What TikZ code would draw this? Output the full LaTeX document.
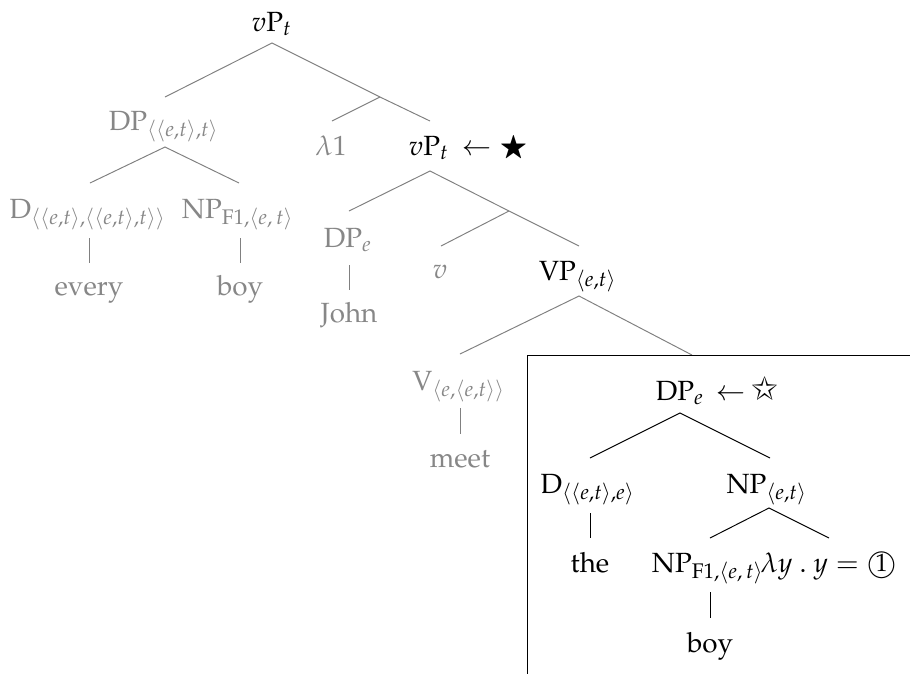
\documentclass[tikz,border=0pt]{standalone}
\usepackage[T1]{fontenc}
\usepackage{mathpazo}
\usepackage{amssymb}
\usepackage{pifont}
\newcommand{\circone}{\mbox{\ooalign{$\bigcirc$\cr\hidewidth\raisebox{0.05ex}{\small 1}\hidewidth\cr}}}
\begin{document}
\begin{tikzpicture}[x=0.36pt,y=-0.36pt,
  lbl/.style={anchor=base,inner sep=0pt,text=black},
  dim/.style={anchor=base,inner sep=0pt,text=black!47},
  gline/.style={draw=black!50,line width=0.35pt},
  bline/.style={draw=black,line width=0.35pt}]
\useasboundingbox (0,0) rectangle (910,673);
% ---- upper tree ----
\node[lbl] (root) at (272,31) {$v\mathrm{P}_t$};
\coordinate (rootB) at (272,43);
\node[dim] (dp1) at (164,130) {DP$_{\langle\langle e,t\rangle,t\rangle}$};
\coordinate (dp1T) at (165,97);
\coordinate (dp1B) at (165,147);
\coordinate (bar1) at (380,97);
\node[dim] (lam1) at (331,155) {$\lambda1$};
\coordinate (lam1T) at (332,121);
\node[lbl] (vp2) at (429,155) {$v\mathrm{P}_t$};
\node[anchor=base west,inner sep=0pt] (star1) at (462,155) {$\leftarrow\bigstar$};
\coordinate (vp2T) at (430,121);
\coordinate (vp2B) at (430,171);
\node[dim] (d1) at (88,218) {D$_{\langle\langle e,t\rangle,\langle\langle e,t\rangle,t\rangle\rangle}$};
\coordinate (d1T) at (90,183);
\coordinate (d1B) at (89,238);
\node[dim] (np1) at (238,218) {NP$_{\mathrm{F1},\langle e,\,t\rangle}$};
\coordinate (np1T) at (239,183);
\coordinate (np1B) at (240,238);
\node[dim] (every) at (89,295) {every};
\coordinate (everyT) at (89,263);
\node[dim] (boy1) at (240,295) {boy};
\coordinate (boy1T) at (240,263);
\node[dim] (dpe1) at (348,247) {DP$_e$};
\coordinate (dpe1T) at (349,211);
\coordinate (dpe1B) at (349,265);
\node[dim] (john) at (349,322) {John};
\coordinate (johnT) at (349,290);
\coordinate (bar2) at (509,211);
\node[dim] (vv) at (440,278) {$v$};
\coordinate (vvT) at (441,246);
\node[lbl] (vp) at (578,280) {VP$_{\langle e,t\rangle}$};
\coordinate (vpT) at (579,246);
\coordinate (vpB) at (579,296);
\node[dim] (vnode) at (459,390) {V$_{\langle e,\langle e,t\rangle\rangle}$};
\coordinate (vnodeT) at (460,354);
\coordinate (vnodeB) at (460,408);
\node[dim] (meet) at (460,467) {meet};
\coordinate (meetT) at (460,434);
\coordinate (boxT) at (692,355);
% ---- connectors upper ----
\draw[gline] (dp1T) -- (rootB) -- (bar1) -- (vp2T);
\draw[gline] (lam1T) -- (bar1);
\draw[gline] (d1T) -- (dp1B) -- (np1T);
\draw[gline] (d1B) -- (everyT);
\draw[gline] (np1B) -- (boy1T);
\draw[gline] (dpe1T) -- (vp2B) -- (bar2) -- (vpT);
\draw[gline] (vvT) -- (bar2);
\draw[gline] (dpe1B) -- (johnT);
\draw[gline] (vnodeT) -- (vpB) -- (boxT);
\draw[gline] (vnodeB) -- (meetT);
% ---- box ----
\coordinate (boxTL) at (527,355);
\coordinate (boxTR) at (912,355);
\coordinate (boxBL) at (527,675);
\draw[bline] (boxTR) -- (boxTL) -- (boxBL);
% ---- lower tree ----
\node[lbl] (dpe2) at (680,400) {DP$_e$};
\node[anchor=base west,inner sep=0pt] (star2) at (716,400) {$\leftarrow$\,{\large\ding{73}}};
\coordinate (dpe2B) at (680,413);
\node[lbl] (d2) at (588,493) {D$_{\langle\langle e,t\rangle,e\rangle}$};
\coordinate (d2T) at (590,458);
\coordinate (d2B) at (590,513);
\node[lbl] (np2) at (767,493) {NP$_{\langle e,t\rangle}$};
\coordinate (np2T) at (770,458);
\coordinate (np2B) at (769,508);
\node[lbl] (the) at (590,572) {the};
\coordinate (theT) at (590,538);
\node[lbl] (np3) at (708,572) {NP$_{\mathrm{F1},\langle e,\,t\rangle}$};
\coordinate (np3T) at (710,538);
\coordinate (np3B) at (710,592);
\node[anchor=base west,inner sep=0pt] (lamy) at (760,572) {$\lambda y\ .\ y = \mbox{\circone}$};
\coordinate (lamyT) at (829,538);
\node[lbl] (boy2) at (710,652) {boy};
\coordinate (boy2T) at (710,618);
\draw[bline] (d2T) -- (dpe2B) -- (np2T);
\draw[bline] (d2B) -- (theT);
\draw[bline] (np3T) -- (np2B) -- (lamyT);
\draw[bline] (np3B) -- (boy2T);
\end{tikzpicture}
\end{document}
